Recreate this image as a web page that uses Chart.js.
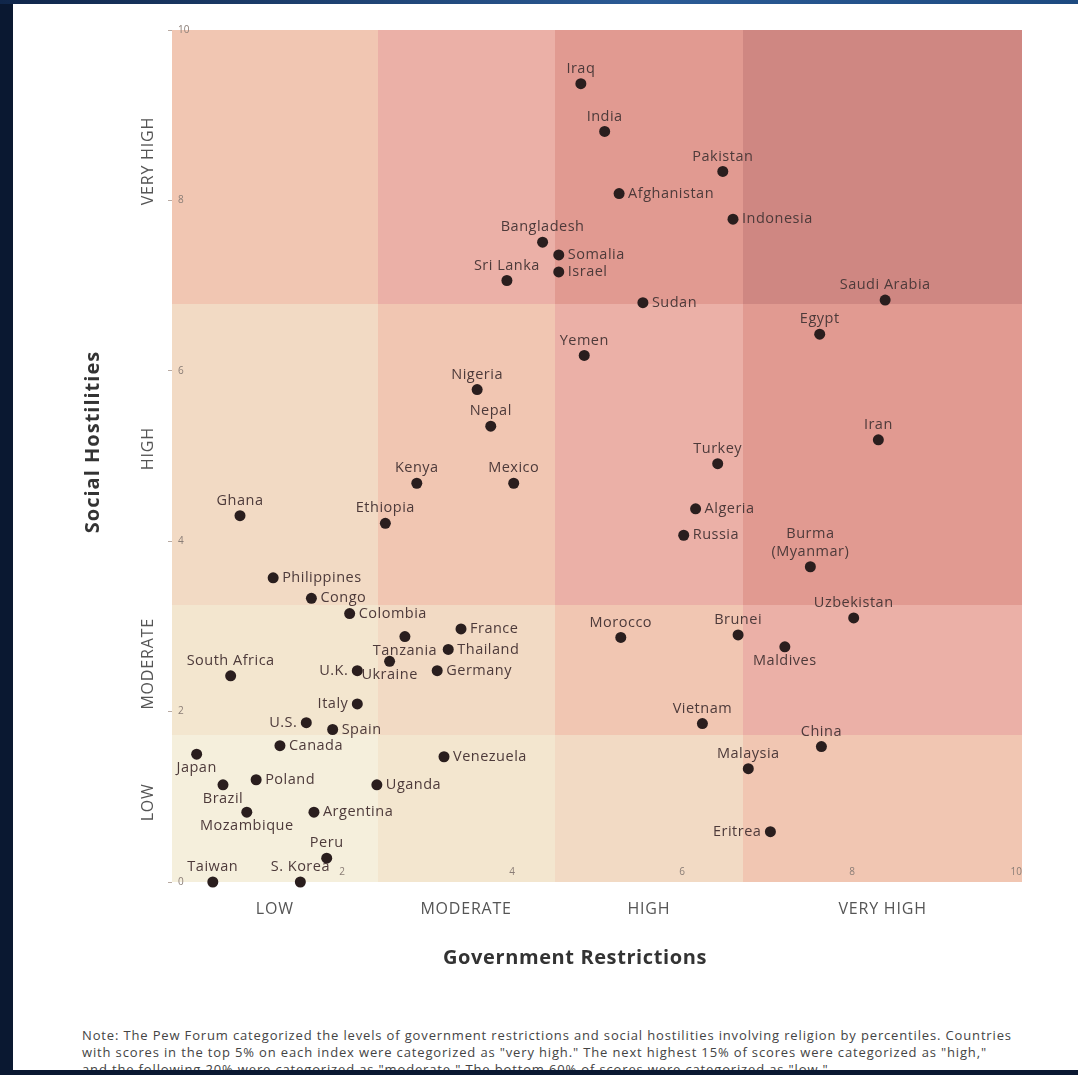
<!DOCTYPE html>
<html>
<head>
<meta charset="utf-8">
<script src="https://cdn.jsdelivr.net/npm/chart.js@4.4.1/dist/chart.umd.min.js"></script>
<style>
  html, body { margin: 0; padding: 0; }
  body { width: 1078px; height: 1075px; overflow: hidden; background: #0a1831; position: relative; }
  .topbar { position: absolute; left: 0; top: 0; width: 1078px; height: 4px; background: linear-gradient(90deg, #10264a, #2b5b96 60%, #1d4a80); }
  #card { position: absolute; left: 13px; top: 4px; width: 1065px; height: 1066px; background: #fff; overflow: hidden; }
  #note { position: absolute; left: 69px; top: 1023px; width: 990px; font: 13px "Open Sans", sans-serif; letter-spacing: 0.85px; line-height: 17px; color: #444; white-space: nowrap; }
  #chart { position: absolute; left: 0; top: 0; }
</style>
</head>
<body>
<div class="topbar"></div>
<div id="card">
  <div id="note">Note: The Pew Forum categorized the levels of government restrictions and social hostilities involving religion by percentiles. Countries<br>with scores in the top 5% on each index were categorized as "very high." The next highest 15% of scores were categorized as "high,"<br>and the following 20% were categorized as "moderate." The bottom 60% of scores were categorized as "low."</div>
</div>
<canvas id="chart" width="1078" height="1075"></canvas>
<script>
// scores (government restrictions = x, social hostilities = y)
const countries = [
  'Iraq', 'India', 'Pakistan', 'Afghanistan', 'Indonesia', 'Bangladesh', 'Somalia', 'Israel',
  'Sri Lanka', 'Sudan', 'Saudi Arabia', 'Egypt', 'Yemen', 'Nigeria', 'Nepal', 'Iran',
  'Turkey', 'Kenya', 'Mexico', 'Ghana', 'Ethiopia', 'Algeria', 'Russia', 'Burma\n(Myanmar)',
  'Philippines', 'Congo', 'Colombia', 'Uzbekistan', 'France', 'Tanzania', 'Morocco', 'Brunei',
  'Maldives', 'Thailand', 'Ukraine', 'U.K.', 'Germany', 'South Africa', 'Italy', 'U.S.',
  'Spain', 'Vietnam', 'China', 'Canada', 'Japan', 'Venezuela', 'Malaysia', 'Poland',
  'Brazil', 'Uganda', 'Mozambique', 'Argentina', 'Eritrea', 'Peru', 'Taiwan', 'S. Korea'
];
const govScores = [
  4.81, 5.09, 6.48, 5.26, 6.60, 4.36, 4.55, 4.55,
  3.94, 5.54, 8.39, 7.62, 4.85, 3.59, 3.75, 8.31,
  6.42, 2.88, 4.02, 0.80, 2.51, 6.16, 6.02, 7.51,
  1.19, 1.64, 2.09, 8.02, 3.40, 2.74, 5.28, 6.66,
  7.21, 3.25, 2.56, 2.18, 3.12, 0.69, 2.18, 1.58,
  1.89, 6.24, 7.64, 1.27, 0.29, 3.20, 6.78, 0.99,
  0.60, 2.41, 0.88, 1.67, 7.04, 1.82, 0.48, 1.51
];
const socialScores = [
  9.37, 8.81, 8.34, 8.08, 7.78, 7.51, 7.36, 7.16,
  7.06, 6.80, 6.83, 6.43, 6.18, 5.78, 5.35, 5.19,
  4.91, 4.68, 4.68, 4.30, 4.21, 4.38, 4.07, 3.70,
  3.57, 3.33, 3.15, 3.10, 2.97, 2.88, 2.87, 2.90,
  2.76, 2.73, 2.59, 2.48, 2.48, 2.42, 2.09, 1.87,
  1.79, 1.86, 1.59, 1.60, 1.50, 1.47, 1.33, 1.20,
  1.14, 1.14, 0.82, 0.82, 0.59, 0.28, 0.00, 0.00
];
const tickValues = [0, 2, 4, 6, 8, 10];
const levelNames = ['LOW', 'MODERATE', 'HIGH', 'VERY HIGH'];
const govBandEdges = [0, 2.42, 4.5, 6.72, 10];
const socialBandEdges = [0, 1.73, 3.25, 6.78, 10];

// cell colour depends on gov level + social level
const bandColors = ['#F5EFDC', '#F3E6CF', '#F2DAC4', '#F1C6B2', '#EBB0A7', '#E19A91', '#CF8782'];

// where each name sits relative to its dot (default: above)
const labelSide = {
  'Afghanistan': 'right', 'Indonesia': 'right', 'Somalia': 'right', 'Israel': 'right',
  'Sudan': 'right', 'Algeria': 'right', 'Russia': 'right', 'Philippines': 'right',
  'Congo': 'right', 'Colombia': 'right', 'France': 'right', 'Thailand': 'right',
  'Germany': 'right', 'Spain': 'right', 'Canada': 'right', 'Venezuela': 'right',
  'Poland': 'right', 'Uganda': 'right', 'Argentina': 'right',
  'U.K.': 'left', 'Italy': 'left', 'U.S.': 'left', 'Eritrea': 'left',
  'Tanzania': 'bottom', 'Maldives': 'bottom', 'Ukraine': 'bottom', 'Japan': 'bottom',
  'Brazil': 'bottom', 'Mozambique': 'bottom'
};

const bands = {
  id: 'bands',
  beforeDraw(chart) {
    const { ctx, scales: { x, y } } = chart;
    const px = v => Math.round(x.getPixelForValue(v));
    const py = v => Math.round(y.getPixelForValue(v));
    ctx.save();
    for (let i = 0; i < 4; i++) {
      for (let j = 0; j < 4; j++) {
        const left = px(govBandEdges[i]);
        const right = px(govBandEdges[i + 1]);
        const top = py(socialBandEdges[j + 1]);
        const bottom = py(socialBandEdges[j]);
        ctx.fillStyle = bandColors[i + j];
        ctx.fillRect(left, top, right - left, bottom - top);
      }
    }
    ctx.restore();
  }
};

const labels = {
  id: 'labels',
  afterDatasetsDraw(chart) {
    const { ctx, scales: { x, y } } = chart;
    const meta = chart.getDatasetMeta(0);
    ctx.save();

    ctx.font = '14.5px "Open Sans"';
    ctx.letterSpacing = '0.5px';
    ctx.fillStyle = '#4d3a3a';
    ctx.textBaseline = 'middle';
    meta.data.forEach((pt, i) => {
      const side = labelSide[countries[i]] || 'top';
      const lines = countries[i].split('\n');
      if (side === 'right') {
        ctx.textAlign = 'left';
        ctx.fillText(lines[0], pt.x + 9, pt.y);
      } else if (side === 'left') {
        ctx.textAlign = 'right';
        ctx.fillText(lines[0], pt.x - 9, pt.y);
      } else if (side === 'bottom') {
        ctx.textAlign = 'center';
        ctx.fillText(lines[0], pt.x, pt.y + 14);
      } else {
        ctx.textAlign = 'center';
        lines.forEach((line, k) => {
          ctx.fillText(line, pt.x, pt.y - 15 - (lines.length - 1 - k) * 18);
        });
      }
    });

    // level names under / beside the plot
    ctx.font = '16px "Open Sans"';
    ctx.letterSpacing = '0.8px';
    ctx.fillStyle = '#555';
    ctx.textAlign = 'center';
    levelNames.forEach((name, i) => {
      const cx = (x.getPixelForValue(govBandEdges[i]) + x.getPixelForValue(govBandEdges[i + 1])) / 2;
      ctx.fillText(name, cx, 909);
      const cy = (y.getPixelForValue(socialBandEdges[i]) + y.getPixelForValue(socialBandEdges[i + 1])) / 2;
      ctx.save();
      ctx.translate(148, cy - 6);
      ctx.rotate(-Math.PI / 2);
      ctx.fillText(name, 0, 0);
      ctx.restore();
    });

    ctx.font = 'bold 20px "Open Sans"';
    ctx.letterSpacing = '0.6px';
    ctx.fillStyle = '#333';
    ctx.fillText('Government Restrictions', 575, 958);
    ctx.letterSpacing = '1px';
    ctx.save();
    ctx.translate(93, 442);
    ctx.rotate(-Math.PI / 2);
    ctx.fillText('Social Hostilities', 0, 0);
    ctx.restore();

    ctx.restore();
  }
};

function setTicks(scale) {
  scale.ticks = tickValues.map(v => ({ value: v }));
}

const ctx = document.getElementById('chart').getContext('2d');
new Chart(ctx, {
  type: 'scatter',
  data: {
    datasets: [{
      data: govScores.map((g, i) => ({ x: g, y: socialScores[i] })),
      backgroundColor: '#2a1e1e',
      borderWidth: 0,
      pointRadius: 5.5,
      pointHoverRadius: 5.5,
      clip: false
    }]
  },
  options: {
    responsive: false,
    animation: false,
    layout: { padding: { left: 0, top: 30, right: 56, bottom: 0 } },
    plugins: {
      legend: { display: false },
      tooltip: { enabled: false }
    },
    scales: {
      x: {
        min: 0,
        max: 10,
        afterBuildTicks: setTicks,
        afterFit: scale => { scale.height = 193; },
        border: { display: false },
        grid: { display: false },
        ticks: {
          mirror: true,
          padding: 4,
          align: 'inner',
          color: '#8a7d76',
          font: { family: 'Open Sans', size: 10 },
          callback: v => v === 0 ? '' : v
        }
      },
      y: {
        min: 0,
        max: 10,
        afterBuildTicks: setTicks,
        afterFit: scale => { scale.width = 172; },
        border: { display: false },
        grid: { drawOnChartArea: false, tickLength: 4, color: '#b8aaa2' },
        ticks: {
          mirror: true,
          padding: 6,
          color: '#8a7d76',
          font: { family: 'Open Sans', size: 10 }
        }
      }
    }
  },
  plugins: [bands, labels]
});
</script>
</body>
</html>
